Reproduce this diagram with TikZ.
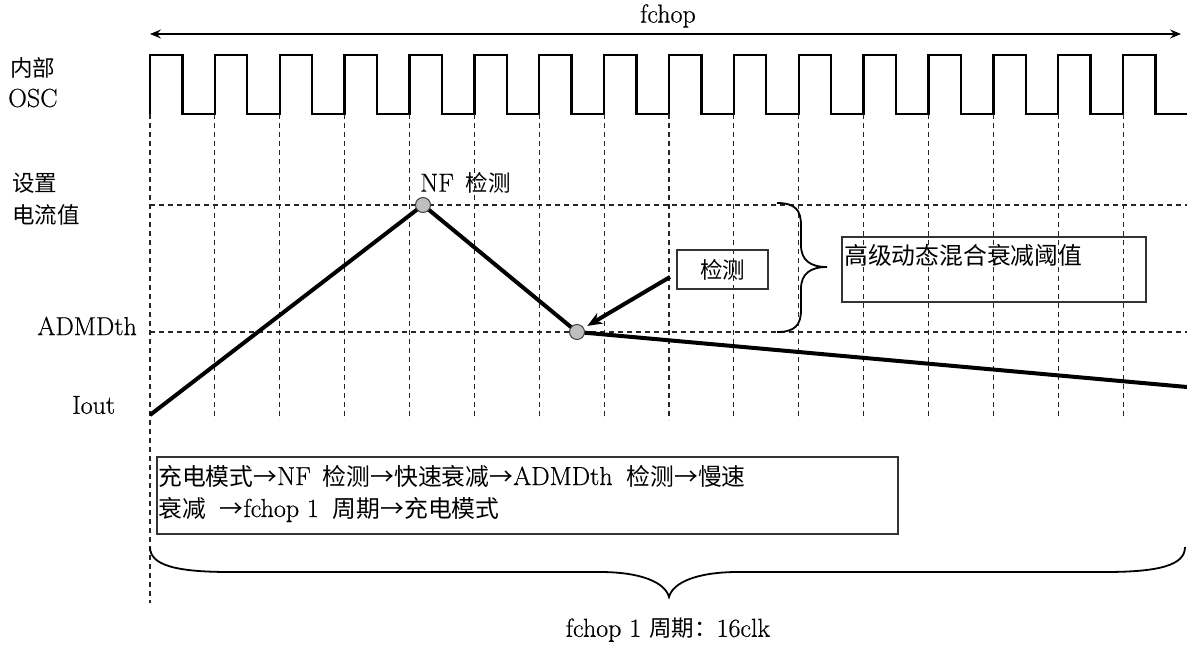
\documentclass[tikz,border=0pt]{standalone}
\usepackage{fontspec}
\setmainfont{Latin Modern Roman}[FakeBold=0.5]
\newfontfamily\cjkf{Noto Sans CJK SC}
\newcommand\zh[1]{{\cjkf\fontsize{22.5}{27}\selectfont #1}}
\newcommand\zhb[1]{{\cjkf\fontsize{23.8}{27}\selectfont #1}}
\usetikzlibrary{arrows.meta}
\begin{document}
\begin{tikzpicture}[x=1pt,y=-1pt,
  lbl/.style={font=\fontsize{26}{30}\selectfont, inner sep=0pt},
  grid/.style={dash pattern=on 5pt off 4pt, line width=1.1pt, black!85},
  clk/.style={line width=2.4pt, line join=miter},
  wave/.style={line width=4pt},
  dot/.style={circle, fill=black!25, draw=black!75, line width=1pt, minimum size=15pt, inner sep=0pt},
  box/.style={draw=black!80, line width=1.3pt, inner sep=0pt},
  brace/.style={line width=1.8pt}]
\useasboundingbox (0,0) rectangle (1187,645);

% top arrow
\coordinate (fl) at (150,34);
\coordinate (fr) at (1181,34);
\draw[line width=1.8pt, {Stealth[length=11pt,width=9pt,inset=4pt]}-{Stealth[length=11pt,width=9pt,inset=4pt]}] (fl) -- (fr);
\node[lbl] (fchop) at (668,16) {fchop};

% clock
\draw[clk] (150,114) \foreach \i in {0,...,15}{ -- ++(0,-59) -- ++(32.4,0) -- ++(0,59) -- ++(32.475,0)};

% grid
\draw[grid] (150,114) -- (150,603);
\foreach \i in {1,...,15}{
  \draw[grid] ({150+\i*64.875},114) -- ({150+\i*64.875},420);
}
\draw[grid] (150,205) -- (1187,205);
\draw[grid] (150,332) -- (1187,332);

% left labels
\node[lbl, anchor=west] (nb) at (10,68) {\zh{内部}};
\node[lbl, anchor=west] (osc) at (8,98) {OSC};
\node[lbl, anchor=west] (sz) at (12,183) {\zh{设置}};
\node[lbl, anchor=west] (dl) at (12,215) {\zh{电流值}};
\node[lbl, anchor=east] (admd) at (137,326) {ADMDth};
\node[lbl, anchor=west] (iout) at (72,405) {Iout};

% current waveform
\coordinate (w0) at (150,415);
\coordinate (p1) at (423,205);
\coordinate (p2) at (577,332);
\coordinate (w3) at (1187,387);
\draw[wave] (w0) -- (p1) -- (p2) -- (w3);
\node[dot] (c1) at (p1) {};
\node[dot] (c2) at (p2) {};
\node[lbl, anchor=west] (nf) at (420,183) {NF\hspace{12pt}\zh{检测}};

% detect box and arrow
\node[box, lbl, minimum width=91pt, minimum height=39pt] (det) at (722.5,269.5) {\zh{检测}};
\coordinate (as) at (670,277);
\draw[line width=4pt, -{Stealth[length=15pt,width=12pt]}, shorten >=4pt] (as) -- (c2);

% right brace
\coordinate (bt) at (777,203);
\coordinate (btip) at (827,267);
\coordinate (bb) at (777,332);
\draw[brace] (bt) .. controls (795,203) and (801,210) .. (801,225) -- (801,245)
  .. controls (801,260) and (810,267) .. (btip)
  .. controls (810,267) and (801,274) .. (801,289) -- (801,310)
  .. controls (801,325) and (795,332) .. (bb);

% threshold box
\node[box, minimum width=304pt, minimum height=65pt] (thr) at (994,269.5) {};
\node[lbl, anchor=west] (thrt) at (844,255) {{\cjkf\fontsize{23.8}{28}\selectfont 高级动态混合衰减阈值}};

% sequence box
\node[box, minimum width=741pt, minimum height=77pt] (seq) at (527.5,495.5) {};
\node[lbl, anchor=base west] (seq1) at (158,485) {\zhb{充电模式→}NF\hspace{12pt}\zhb{检测→快速衰减→}ADMDth\hspace{14pt}\zhb{检测→慢速}};
\node[lbl, anchor=base west] (seq2) at (158,517) {\zhb{衰减\hspace{14pt}→}fchop 1\hspace{14pt}\zhb{周期→充电模式}};

% bottom brace
\coordinate (bl) at (150,547);
\coordinate (btp) at (669,597);
\coordinate (br) at (1185,547);
\draw[brace] (bl) .. controls (150,565) and (175,572) .. (230,572) -- (600,572)
  .. controls (640,572) and (665,582) .. (btp)
  .. controls (673,582) and (698,572) .. (738,572) -- (1105,572)
  .. controls (1160,572) and (1185,565) .. (br);
\node[lbl] (per) at (668,630) {fchop 1 \zh{周期：}16clk};
\end{tikzpicture}
\end{document}
